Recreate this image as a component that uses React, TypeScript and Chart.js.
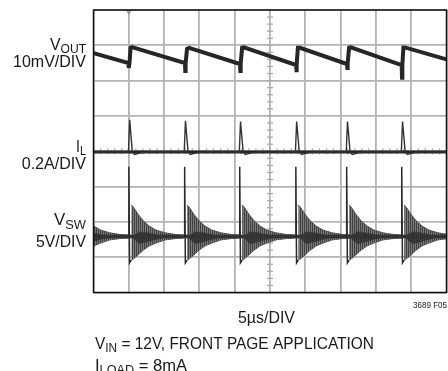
import React, { useEffect, useRef } from 'react';
import { Chart, registerables } from 'chart.js';
Chart.register(...registerables);

// Axes in scope divisions (10 x 8)
const xDivs = 10;
const yDivs = 8;

// VOUT trace (divisions)
const voutX = [0, 0.99, 1.0, 1.02, 1.05, 1.09, 2.59, 2.6, 2.61, 2.65, 2.71, 4.15, 4.16, 4.17, 4.21, 4.26, 5.74, 5.75, 5.76, 5.79, 5.85, 7.18, 7.19, 7.2, 7.24, 7.29, 8.73, 8.74, 8.75, 8.78, 8.82, 10];
const voutY = [6.78, 6.5, 6.36, 6.5, 6.93, 6.95, 6.5, 6.27, 6.5, 6.9, 6.93, 6.47, 6.27, 6.5, 6.93, 6.94, 6.44, 6.24, 6.47, 6.93, 6.93, 6.47, 6.36, 6.5, 6.93, 6.94, 6.44, 6.08, 6.47, 6.94, 6.94, 6.6];

// Switching events (divisions)
const eventTimes = [1.01, 2.59, 4.15, 5.74, 7.18, 8.74];
const vswEvents = [-0.56, 1.01, 2.59, 4.15, 5.74, 7.18, 8.74];

// IL trace
const ilBaseline = 3.98;
const ilPeaks = [4.89, 4.86, 4.84, 4.84, 4.84, 4.84];
const ilSpikeDx = [-0.02, 0.015, 0.09];
const ilAfterDx = [0.15, 0.35, 0.55];
const ilAfterY = [3.91, 3.96, 3.98];

// VSW trace
const vswBase = 1.585;
const vswSpikeTop = 3.56;
const vswSpikeBottom = 0.84;
const envDx = [0.06, 0.12, 0.25, 0.4, 0.57, 0.76, 1.02, 1.33, 1.55];
const envTop = [2.48, 2.42, 2.22, 2.03, 1.88, 1.77, 1.69, 1.64, 1.63];
const envBottom = [0.92, 0.95, 1.06, 1.2, 1.32, 1.4, 1.49, 1.53, 1.54];
const coreDx = [0.1, 0.3, 0.5, 0.75, 1.0];
const coreTop = [1.6, 1.72, 1.7, 1.64, 1.6];
const coreBottom = [1.55, 1.38, 1.43, 1.5, 1.56];

const FONT = '"Liberation Sans", Arial, sans-serif';

type Seg = { t: string; size: number; dy?: number };

function drawRich(ctx: CanvasRenderingContext2D, segs: Seg[], x: number, baseline: number, width: number, align: 'left' | 'right' | 'center') {
  let natural = 0;
  const ws: number[] = [];
  for (const s of segs) {
    ctx.font = `${s.size}px ${FONT}`;
    const w = ctx.measureText(s.t).width;
    ws.push(w);
    natural += w;
  }
  const sc = width / natural;
  const x0 = align === 'right' ? x - width : align === 'center' ? x - width / 2 : x;
  ctx.save();
  ctx.translate(x0, baseline);
  ctx.scale(sc, 1);
  ctx.fillStyle = '#1a1a1a';
  ctx.textBaseline = 'alphabetic';
  ctx.textAlign = 'left';
  let cx = 0;
  segs.forEach((s, i) => {
    ctx.font = `${s.size}px ${FONT}`;
    ctx.fillText(s.t, cx, s.dy || 0);
    cx += ws[i];
  });
  ctx.restore();
}

export default function App() {
  const ref = useRef<HTMLCanvasElement>(null);
  useEffect(() => {
    document.body.style.margin = '0';
    const canvas = ref.current!;
    const pc = document.createElement('canvas');
    pc.width = 2; pc.height = 4;
    const pctx = pc.getContext('2d')!;
    pctx.fillStyle = '#7c7c7c';
    pctx.fillRect(0, 0, 2, 4);
    pctx.fillStyle = '#404040';
    pctx.fillRect(0, 0, 1, 4);
    const pattern = canvas.getContext('2d')!.createPattern(pc, 'repeat')!;

    const datasets: any[] = [];
    const line = (data: any[], color: string, width: number, order: number, extra: any = {}) => ({
      data, borderColor: color, borderWidth: width, showLine: true, pointRadius: 0, tension: 0, fill: false, order, ...extra,
    });

    // VSW envelopes
    vswEvents.forEach((te) => {
      datasets.push(line(envDx.map((d, i) => ({ x: te + d, y: envTop[i] })), '#555', 1, 6, { fill: '+1', backgroundColor: pattern }));
      datasets.push(line(envDx.map((d, i) => ({ x: te + d, y: envBottom[i] })), '#555', 1, 6));
    });
    vswEvents.forEach((te) => {
      datasets.push(line(coreDx.map((d, i) => ({ x: te + d, y: coreTop[i] })), '#3a3a3a', 0.5, 5, { fill: '+1', backgroundColor: 'rgba(45,45,45,0.8)' }));
      datasets.push(line(coreDx.map((d, i) => ({ x: te + d, y: coreBottom[i] })), '#3a3a3a', 0.5, 5));
    });
    // VSW baseline band
    datasets.push(line([{ x: 0, y: vswBase }, { x: 10, y: vswBase }], '#333', 3.5, 4));
    // VSW spikes
    eventTimes.forEach((te) => {
      datasets.push(line([
        { x: te - 0.015, y: vswBase }, { x: te - 0.008, y: vswSpikeTop }, { x: te + 0.012, y: vswSpikeBottom }, { x: te + 0.06, y: envBottom[0] },
      ], '#2a2a2a', 1.5, 3));
    });
    // IL
    const ilData: any[] = [{ x: 0, y: ilBaseline }];
    eventTimes.forEach((te, i) => {
      ilData.push({ x: te + ilSpikeDx[0], y: ilBaseline });
      ilData.push({ x: te + ilSpikeDx[1], y: ilPeaks[i] });
      ilData.push({ x: te + ilSpikeDx[2], y: ilBaseline });
      ilAfterDx.forEach((d, k) => ilData.push({ x: te + d, y: ilAfterY[k] }));
    });
    ilData.push({ x: 10, y: ilBaseline });
    datasets.push(line(ilData, '#333', 1.4, 2));
    datasets.push(line([{ x: 0, y: ilBaseline }, { x: 10, y: ilBaseline }], '#222', 3, 2));
    // VOUT
    const voutData = voutX.map((x, i) => ({ x, y: voutY[i] }));
    datasets.push(line(voutData, '#262626', 4, 1));

    const deco = {
      id: 'deco',
      beforeDatasetsDraw(chart: any) {
        const { ctx, chartArea: a, scales } = chart;
        const xs = scales.x, ys = scales.y;
        ctx.save();
        ctx.strokeStyle = '#a8a8a8';
        ctx.lineWidth = 1.2;
        const cx = xs.getPixelForValue(5), cy = ys.getPixelForValue(4);
        for (let v = 0; v <= yDivs; v += 0.2) {
          const p = ys.getPixelForValue(v);
          ctx.beginPath(); ctx.moveTo(cx - 3, p); ctx.lineTo(cx + 3, p); ctx.stroke();
        }
        for (let v = 0; v <= xDivs; v += 0.2) {
          const p = xs.getPixelForValue(v);
          ctx.beginPath(); ctx.moveTo(p, cy - 3); ctx.lineTo(p, cy + 3); ctx.stroke();
        }
        // trigger marker
        const tx = xs.getPixelForValue(1);
        ctx.fillStyle = '#999';
        ctx.beginPath(); ctx.moveTo(tx - 3, a.top); ctx.lineTo(tx + 3, a.top); ctx.lineTo(tx, a.top + 5); ctx.closePath(); ctx.fill();
        ctx.restore();
      },
      afterDraw(chart: any) {
        const { ctx, chartArea: a } = chart;
        ctx.save();
        ctx.strokeStyle = '#111';
        ctx.lineWidth = 1.5;
        ctx.strokeRect(a.left, a.top, a.right - a.left, a.bottom - a.top);
        ctx.restore();
        drawRich(ctx, [{ t: 'V', size: 17 }, { t: 'OUT', size: 13, dy: 3 }], 86, 50, 36, 'right');
        drawRich(ctx, [{ t: '10mV/DIV', size: 17 }], 86, 67, 73, 'right');
        drawRich(ctx, [{ t: 'I', size: 17 }, { t: 'L', size: 13, dy: 3 }], 86, 152, 10, 'right');
        drawRich(ctx, [{ t: '0.2A/DIV', size: 17 }], 86, 169.3, 64.3, 'right');
        drawRich(ctx, [{ t: 'V', size: 17 }, { t: 'SW', size: 13, dy: 3.5 }], 86, 225, 32, 'right');
        drawRich(ctx, [{ t: '5V/DIV', size: 17 }], 86, 247, 50, 'right');
        drawRich(ctx, [{ t: '5µs/DIV', size: 17 }], 238, 323, 57, 'left');
        drawRich(ctx, [{ t: '3689 F05', size: 8.5 }], 447, 308, 34, 'right');
        drawRich(ctx, [{ t: 'V', size: 17 }, { t: 'IN', size: 13, dy: 3.5 }, { t: ' = 12V, FRONT PAGE APPLICATION', size: 17 }], 95, 348.7, 279, 'left');
        drawRich(ctx, [{ t: 'I', size: 17 }, { t: 'LOAD', size: 13, dy: 3.5 }, { t: ' = 8mA', size: 17 }], 95, 370.7, 92, 'left');
      },
    };

    const chart = new Chart(canvas, {
      type: 'scatter',
      data: { datasets },
      options: {
        responsive: false,
        devicePixelRatio: 1,
        animation: false,
        layout: { padding: { left: 93.5, right: 1.5, top: 10, bottom: 78.5 } },
        plugins: { legend: { display: false }, tooltip: { enabled: false } },
        scales: {
          x: {
            type: 'linear', min: 0, max: xDivs,
            ticks: { stepSize: 1, display: false },
            grid: { color: '#b3b3b3', lineWidth: 1.8, drawTicks: false },
            border: { display: false },
          },
          y: {
            type: 'linear', min: 0, max: yDivs,
            ticks: { stepSize: 1, display: false },
            grid: { color: '#b3b3b3', lineWidth: 1.8, drawTicks: false },
            border: { display: false },
          },
        },
      },
      plugins: [deco],
    });
    return () => chart.destroy();
  }, []);
  return (
    <div style={{ position: 'absolute', left: 0, top: 0, width: 448, height: 371, background: '#fff' }}>
      <canvas ref={ref} width={448} height={371} style={{ display: 'block', width: 448, height: 371 }} />
    </div>
  );
}
